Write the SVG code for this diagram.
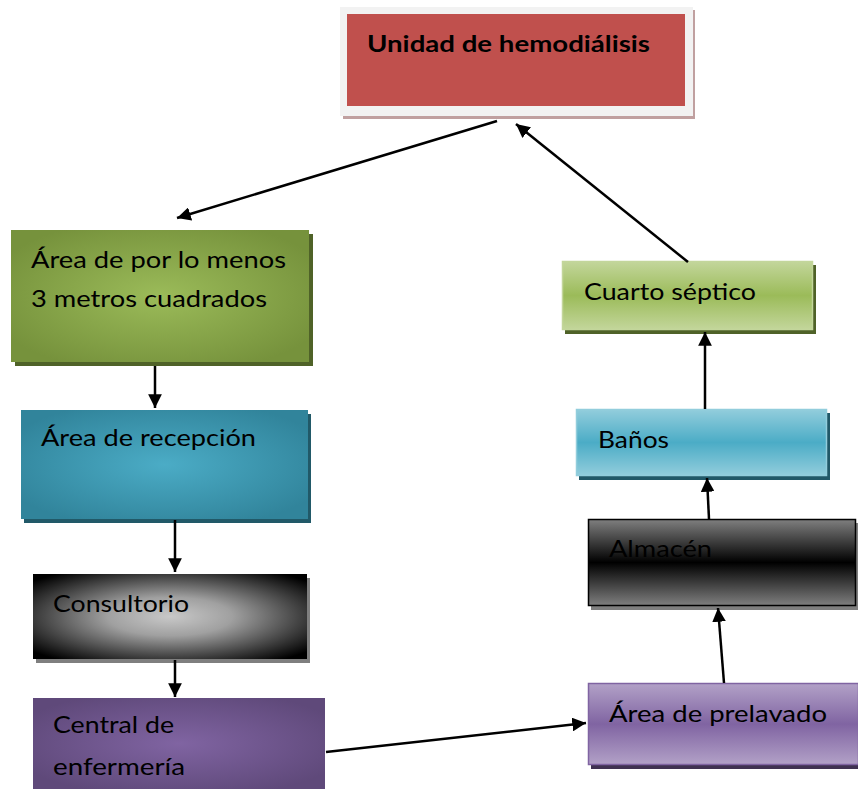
<svg xmlns="http://www.w3.org/2000/svg" width="858" height="789" viewBox="0 0 858 789">
<defs>
<radialGradient id="gGreen" cx="50%" cy="50%" r="60%"><stop offset="0" stop-color="#9bbb59"/><stop offset="1" stop-color="#76923c"/></radialGradient>
<radialGradient id="gTeal" cx="50%" cy="50%" r="60%"><stop offset="0" stop-color="#4bacc6"/><stop offset="1" stop-color="#31849b"/></radialGradient>
<radialGradient id="gGray" cx="50%" cy="50%" r="65%"><stop offset="0" stop-color="#c8c8c8"/><stop offset="0.35" stop-color="#a0a0a0"/><stop offset="1" stop-color="#000000"/></radialGradient>
<radialGradient id="gPurple" cx="50%" cy="50%" r="60%"><stop offset="0" stop-color="#8064a2"/><stop offset="1" stop-color="#5f497a"/></radialGradient>
<linearGradient id="lGreen" x1="0" y1="0" x2="0" y2="1"><stop offset="0" stop-color="#c3d69b"/><stop offset="0.5" stop-color="#9bbb59"/><stop offset="1" stop-color="#c3d69b"/></linearGradient>
<linearGradient id="lTeal" x1="0" y1="0" x2="0" y2="1"><stop offset="0" stop-color="#92cddc"/><stop offset="0.5" stop-color="#4bacc6"/><stop offset="1" stop-color="#92cddc"/></linearGradient>
<linearGradient id="lBlack" x1="0" y1="0" x2="0" y2="1"><stop offset="0" stop-color="#7f7f7f"/><stop offset="0.5" stop-color="#000000"/><stop offset="1" stop-color="#7f7f7f"/></linearGradient>
<linearGradient id="lPurple" x1="0" y1="0" x2="0" y2="1"><stop offset="0" stop-color="#b2a1c7"/><stop offset="0.5" stop-color="#8064a2"/><stop offset="1" stop-color="#b2a1c7"/></linearGradient>
<marker id="ah" viewBox="0 0 10 10" refX="10" refY="5" markerWidth="5.5" markerHeight="5.5" orient="auto" markerUnits="strokeWidth"><path d="M0,0 L10,5 L0,10 z" fill="#000"/></marker>
</defs>
<style>
text{font-family:Lato,"Noto Sans","DejaVu Sans",sans-serif;font-size:24px;fill:#000}
.b{font-weight:bold;font-size:22px}
.c{stroke:#000;stroke-width:2.5;fill:none;marker-end:url(#ah)}
</style>
<rect width="858" height="789" fill="#fff"/>
<g id="n-unidad">
<rect x="343" y="10" width="352" height="109" fill="#c0a0a0"/>
<rect x="340" y="7" width="353" height="109" fill="#f2f2f2"/>
<rect x="347" y="14" width="338" height="92" fill="#c0504d"/>
<text class="b" x="367" y="52" textLength="283" lengthAdjust="spacingAndGlyphs">Unidad de hemodiálisis</text>
</g>
<g id="n-area3m">
<rect x="15" y="234" width="298" height="132" fill="#4f6228"/>
<rect x="11" y="230" width="298" height="132" fill="url(#gGreen)"/>
<text x="31" y="268" textLength="255" lengthAdjust="spacingAndGlyphs">Área de por lo menos</text>
<text x="31" y="307" textLength="236" lengthAdjust="spacingAndGlyphs">3 metros cuadrados</text>
</g>
<g id="n-recepcion">
<rect x="24" y="414" width="287" height="109" fill="#215968"/>
<rect x="21" y="410" width="287" height="109" fill="url(#gTeal)"/>
<text x="41" y="446" textLength="215" lengthAdjust="spacingAndGlyphs">Área de recepción</text>
</g>
<g id="n-consultorio">
<rect x="36" y="578" width="274" height="85" fill="#7f7f7f"/>
<rect x="33" y="574" width="274" height="85" fill="url(#gGray)"/>
<text x="53" y="612" textLength="136" lengthAdjust="spacingAndGlyphs">Consultorio</text>
</g>
<g id="n-central">
<rect x="33" y="698" width="292" height="91" fill="url(#gPurple)"/>
<text x="53" y="733" textLength="121" lengthAdjust="spacingAndGlyphs">Central de</text>
<text x="53" y="775" textLength="132" lengthAdjust="spacingAndGlyphs">enfermería</text>
</g>
<g id="n-septico">
<rect x="565" y="265" width="251" height="69" fill="#4f6228"/>
<rect x="562.5" y="261.5" width="250" height="68" fill="url(#lGreen)" stroke="#c3d69b" stroke-width="1.5"/>
<text x="584" y="300" textLength="172" lengthAdjust="spacingAndGlyphs">Cuarto séptico</text>
</g>
<g id="n-banos">
<rect x="579" y="413" width="251" height="67" fill="#215868"/>
<rect x="576.5" y="409.5" width="250" height="66" fill="url(#lTeal)" stroke="#92cddc" stroke-width="1.5"/>
<text x="598" y="448" textLength="71" lengthAdjust="spacingAndGlyphs">Baños</text>
</g>
<g id="n-almacen">
<rect x="591" y="523" width="267" height="87" fill="#7f7f7f"/>
<rect x="588.5" y="519.5" width="267" height="86" fill="url(#lBlack)" stroke="#000" stroke-width="1.5"/>
<text x="609" y="557" textLength="103" lengthAdjust="spacingAndGlyphs">Almacén</text>
</g>
<g id="n-prelavado">
<rect x="591" y="687" width="267" height="82" fill="#3f3151"/>
<rect x="588.5" y="683.5" width="270" height="81" fill="url(#lPurple)" stroke="#8064a2" stroke-width="1.5"/>
<text x="609" y="722" textLength="218" lengthAdjust="spacingAndGlyphs">Área de prelavado</text>
</g>
<g id="connectors">
<line class="c" x1="497" y1="121" x2="177" y2="218"/>
<line class="c" x1="688" y1="262" x2="516" y2="124"/>
<line class="c" x1="155" y1="366" x2="155" y2="408"/>
<line class="c" x1="175" y1="520" x2="175" y2="572"/>
<line class="c" x1="175" y1="660" x2="175" y2="697"/>
<line class="c" x1="326" y1="752" x2="586" y2="723"/>
<line class="c" x1="724" y1="683" x2="718" y2="608"/>
<line class="c" x1="709" y1="519" x2="707" y2="478"/>
<line class="c" x1="705" y1="409" x2="705" y2="332"/>
</g>
</svg>
